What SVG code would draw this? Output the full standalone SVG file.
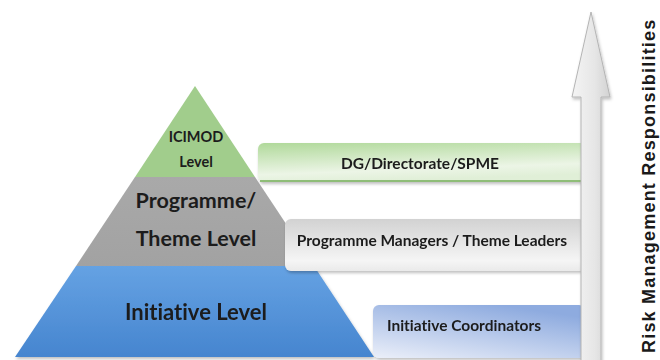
<svg xmlns="http://www.w3.org/2000/svg" width="660" height="360" viewBox="0 0 660 360">
  <defs>
    <linearGradient id="gBlue" x1="0" y1="0" x2="0" y2="1">
      <stop offset="0" stop-color="#65a2e3"/>
      <stop offset="1" stop-color="#4685cf"/>
    </linearGradient>
    <linearGradient id="gGray" x1="0" y1="0" x2="0" y2="1">
      <stop offset="0" stop-color="#a9a9a9"/>
      <stop offset="1" stop-color="#a2a2a2"/>
    </linearGradient>
    <linearGradient id="boxGreen" x1="0" y1="0" x2="0.3" y2="1">
      <stop offset="0" stop-color="#b0d99a"/>
      <stop offset="0.75" stop-color="#ecf5e6"/>
      <stop offset="1" stop-color="#e0efd7"/>
    </linearGradient>
    <linearGradient id="boxGray" x1="0" y1="0" x2="0" y2="1">
      <stop offset="0" stop-color="#d2d2d2"/>
      <stop offset="0.8" stop-color="#f5f5f5"/>
      <stop offset="1" stop-color="#eaeaea"/>
    </linearGradient>
    <linearGradient id="boxBlue" x1="0" y1="1" x2="0.6" y2="0">
      <stop offset="0" stop-color="#ebeff9"/>
      <stop offset="1" stop-color="#8eabdf"/>
    </linearGradient>
    <linearGradient id="arrowFill" x1="0" y1="0" x2="1" y2="0">
      <stop offset="0" stop-color="#f4f4f4"/>
      <stop offset="0.6" stop-color="#e6e6e6"/>
      <stop offset="1" stop-color="#d2d2d2"/>
    </linearGradient>
    <filter id="shadow" x="-10%" y="-10%" width="120%" height="130%">
      <feDropShadow dx="1" dy="2" stdDeviation="1.5" flood-color="#000" flood-opacity="0.25"/>
    </filter>
  </defs>
  <style>
    .lvl { font-family: Lato, "Open Sans", "Liberation Sans", sans-serif; font-weight: bold; fill: #1c1c1c; text-anchor: middle; font-variant-ligatures: none; }
    .box-label { font-family: Lato, "Open Sans", "Liberation Sans", sans-serif; font-weight: bold; font-size: 15.5px; fill: #1c1c1c; text-anchor: middle; font-variant-ligatures: none; }
    .side { font-family: "Liberation Sans", Arial, sans-serif; font-weight: bold; font-size: 18px; letter-spacing: 1.2px; fill: #1a1a1a; }
  </style>

  <!-- pyramid levels -->
  <g id="level-initiative" filter="url(#shadow)">
    <polygon points="76,266 314,266 374,357 15,357" fill="url(#gBlue)"/>
    <text class="lvl" x="196" y="320" font-size="22">Initiative Level</text>
  </g>
  <g id="level-programme">
    <polygon points="135,177 255,177 314,266 76,266" fill="url(#gGray)"/>
    <text class="lvl" x="196" y="208" font-size="21.5">Programme/</text>
    <text class="lvl" x="196" y="246" font-size="21.5">Theme Level</text>
  </g>
  <g id="level-icimod">
    <polygon points="195,86 255,177 135,177" fill="#a1cd8c"/>
    <text class="lvl" x="196" y="142" font-size="14.5">ICIMOD</text>
    <text class="lvl" x="196" y="167" font-size="14.5">Level</text>
  </g>

  <!-- responsibility boxes -->
  <g id="box-directorate" filter="url(#shadow)">
    <rect x="258" y="143" width="330" height="39" rx="6" fill="url(#boxGreen)"/>
    <rect x="260" y="180" width="328" height="2" fill="#8fbd78"/>
    <text class="box-label" x="420" y="169" font-size="15">DG/Directorate/SPME</text>
  </g>
  <g id="box-managers" filter="url(#shadow)">
    <rect x="285" y="219" width="300" height="52" rx="6" fill="url(#boxGray)"/>
    <text class="box-label" x="432" y="246">Programme Managers / Theme Leaders</text>
  </g>
  <g id="box-coordinators" filter="url(#shadow)">
    <rect x="373" y="305" width="212" height="53" rx="6" fill="url(#boxBlue)"/>
    <text class="box-label" x="464" y="331">Initiative Coordinators</text>
  </g>

  <!-- upward arrow -->
  <g id="arrow" filter="url(#shadow)">
    <path d="M591,12 L610,97 L601,97 L601,362 L581,362 L581,97 L572,97 Z" fill="url(#arrowFill)" stroke="#b4b4b4" stroke-width="1"/>
  </g>

  <g id="axis-label">
    <text class="side" transform="translate(655,353) rotate(-90)">Risk Management Responsibilities</text>
  </g>
</svg>
